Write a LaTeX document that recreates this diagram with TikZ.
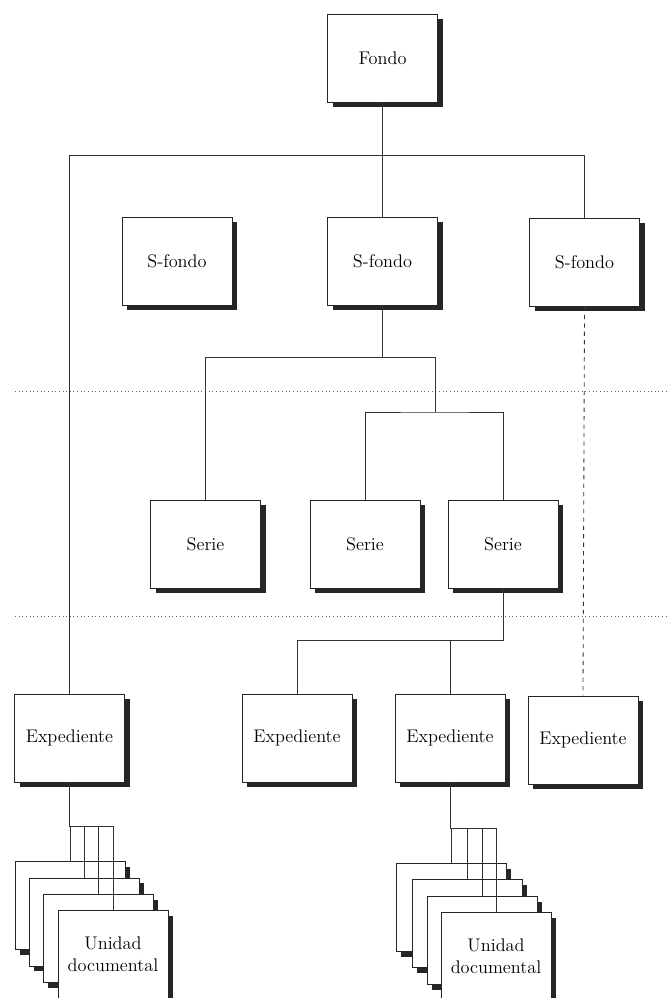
\documentclass[tikz,border=0pt]{standalone}
\usetikzlibrary{shadows}

\tikzset{
  caja/.style={draw=black!85, line width=0.6pt, fill=white, inner sep=0pt,
    minimum width=2.75cm, minimum height=2.2cm, align=center,
    font=\fontsize{13}{15.5}\selectfont,
    general shadow={fill=black!85, shadow xshift=0.13cm, shadow yshift=-0.13cm}},
  enlace/.style={draw=black!80, line width=0.6pt},
  nivel/.style={draw=black!60, dotted, line width=0.6pt}
}

\begin{document}
\begin{tikzpicture}[x=0.025cm, y=-0.025cm]
  \useasboundingbox (0,0) rectangle (669,998);
  %niveles
  \draw[nivel] (15,391) -- (669,391);
  \draw[nivel] (15,616) -- (669,616);

  %cajas
  \node[caja] (fondo) at (382.5,58) {Fondo};
  \node[caja] (sf1) at (177,261) {S-fondo};
  \node[caja] (sf2) at (382.5,261) {S-fondo};
  \node[caja] (sf3) at (584.5,262) {S-fondo};
  \node[caja] (serie1) at (205.5,544) {Serie};
  \node[caja] (serie2) at (365,544) {Serie};
  \node[caja] (serie3) at (503,544) {Serie};
  \node[caja] (exp1) at (69.5,738) {Expediente};
  \node[caja] (exp2) at (297,738) {Expediente};
  \node[caja] (exp3) at (450,738) {Expediente};
  \node[caja] (exp4) at (583,740) {Expediente};

  %unidades documentales
  \node[caja] (ua1) at (70,905.5) {};
  \node[caja] (ua2) at (84,922) {};
  \node[caja] (ua3) at (98,938.5) {};
  \node[caja] (ua4) at (113,954.5) {Unidad\\documental};
  \node[caja] (ub1) at (451,907.5) {};
  \node[caja] (ub2) at (467,923.5) {};
  \node[caja] (ub3) at (482,940.5) {};
  \node[caja] (ub4) at (496,956.5) {Unidad\\documental};

  %uniones
  \coordinate (bus0) at (0,155);
  \coordinate (knot1) at (435,357);
  \coordinate (knot2) at (435,412);
  \coordinate (bus3) at (0,640);
  \coordinate (busa) at (0,826);
  \coordinate (busb) at (0,828);

  \draw[enlace] (fondo.south) -- (sf2.north);
  \draw[enlace] (exp1.north) -- (exp1.north |- bus0) -| (sf3.north);
  \draw[enlace, dashed] (sf3.south) -- (exp4.north);
  \draw[enlace] (sf2.south) -- (sf2.south |- knot1);
  \draw[enlace] (serie1.north) |- (knot1) -- (knot2);
  \draw[enlace] (serie2.north) |- (knot2) -| (serie3.north);
  \draw[enlace] (serie3.south) -- (serie3.south |- bus3) -| (exp2.north);
  \draw[enlace] (exp3.north) -- (exp3.north |- bus3);

  \draw[enlace] (exp1.south) -- (exp1.south |- busa) -| (ua4.north);
  \draw[enlace] (exp3.south) -- (exp3.south |- busb) -| (ub4.north);
  \foreach \i in {1,2,3}{
    \draw[enlace] (ua\i.north) -- (ua\i.north |- busa);
    \draw[enlace] (ub\i.north) -- (ub\i.north |- busb);
  }
\end{tikzpicture}
\end{document}
